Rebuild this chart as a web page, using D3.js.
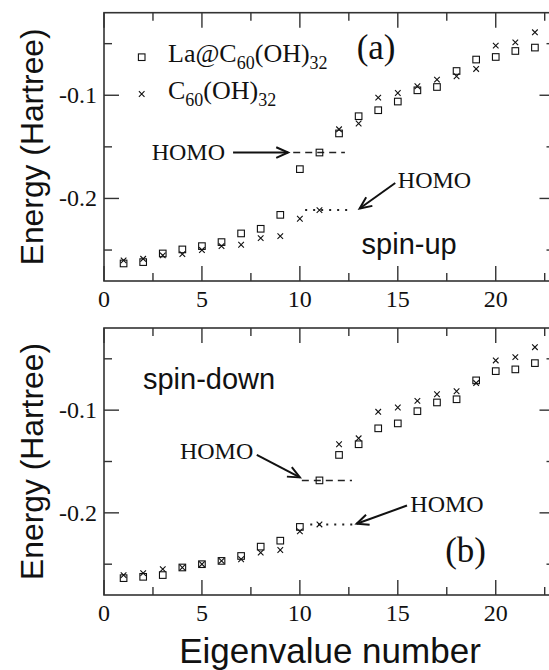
<!DOCTYPE html>
<html lang="en">
<head>
    <meta charset="UTF-8">
    <title>Eigenvalues La@C60(OH)32 vs C60(OH)32</title>
    <script src="https://cdnjs.cloudflare.com/ajax/libs/d3/7.8.5/d3.min.js"></script>
    <style>
        * { margin: 0; padding: 0; }
        body { background: #fff; }
        svg { display: block; }
        .serif { font-family: "Liberation Serif", "Times New Roman", serif; fill: #111; }
        .sans { font-family: "Liberation Sans", Arial, sans-serif; fill: #111; }
        .frame line, .frame rect { stroke: #333; }
    </style>
</head>
<body>
<svg id="chart" width="549" height="670"></svg>
<script>
    // eigenvalue index (x)
    const eigNumber = d3.range(1, 23);

    // spin-up (a)
    const upLa  = [-0.2630, -0.2617, -0.2533, -0.2494, -0.2462, -0.2423, -0.2339, -0.2294, -0.2159, -0.1716, -0.1555,
                   -0.1370, -0.1203, -0.1145, -0.1061, -0.0952, -0.0920, -0.0765, -0.0654, -0.0629, -0.0571, -0.0538];
    const upC60 = [-0.2600, -0.2585, -0.2552, -0.2539, -0.2500, -0.2462, -0.2449, -0.2384, -0.2365, -0.2197, -0.2113,
                   -0.1330, -0.1274, -0.1023, -0.0978, -0.0913, -0.0848, -0.0816, -0.0745, -0.0519, -0.0487, -0.0390];

    // spin-down (b)
    const downLa  = [-0.2636, -0.2623, -0.2606, -0.2532, -0.2500, -0.2468, -0.2420, -0.2329, -0.2271, -0.2137, -0.1684,
                     -0.1436, -0.1332, -0.1177, -0.1129, -0.1010, -0.0925, -0.0894, -0.0710, -0.0620, -0.0603, -0.0542];
    const downC60 = [-0.2606, -0.2587, -0.2548, -0.2532, -0.2500, -0.2468, -0.2452, -0.2387, -0.2362, -0.2180, -0.2113,
                     -0.1332, -0.1274, -0.1016, -0.0974, -0.0910, -0.0845, -0.0816, -0.0736, -0.0516, -0.0484, -0.0387];

    // HOMO index for each series (1-based)
    const homoLa = 11, homoC60 = 11;

    const xTicks = [0, 5, 10, 15, 20];
    const yTicks = [-0.2, -0.1];
    const yTickLabels = ['-0.2', '-0.1'];

    const svg = d3.select('#chart');

    const x = d3.scaleLinear().domain([0, 23]).range([104, 554.5]);

    function drawPanel(opts) {
        const y = d3.scaleLinear().domain([-0.28, -0.02]).range([opts.bottom, opts.top]);
        const g = svg.append('g');
        const x0 = x.range()[0], x1 = x.range()[1];

        // frame
        const frame = g.append('g').attr('class', 'frame');
        frame.append('rect')
            .attr('x', x0).attr('y', opts.top)
            .attr('width', x1 - x0).attr('height', opts.bottom - opts.top)
            .attr('fill', 'none').attr('stroke-width', 1.6);

        const xMajor = xTicks;
        const xMinor = d3.range(2.5, 23, 5);
        const yMajor = yTicks;
        const yMinor = [-0.25, -0.15, -0.05];

        function xtick(v, len) {
            frame.append('line').attr('x1', x(v)).attr('x2', x(v))
                .attr('y1', opts.bottom).attr('y2', opts.bottom - len).attr('stroke-width', 1.4);
            frame.append('line').attr('x1', x(v)).attr('x2', x(v))
                .attr('y1', opts.top).attr('y2', opts.top + len).attr('stroke-width', 1.4);
        }
        function ytick(v, len) {
            frame.append('line').attr('y1', y(v)).attr('y2', y(v))
                .attr('x1', x0).attr('x2', x0 + len).attr('stroke-width', 1.4);
            frame.append('line').attr('y1', y(v)).attr('y2', y(v))
                .attr('x1', x1).attr('x2', x1 - len).attr('stroke-width', 1.4);
        }
        xMajor.forEach(v => xtick(v, 15));
        xMinor.forEach(v => xtick(v, 8));
        yMajor.forEach(v => ytick(v, 15));
        yMinor.forEach(v => ytick(v, 8));

        // tick labels
        g.selectAll('.xl').data(xMajor).enter().append('text')
            .attr('class', 'serif')
            .attr('x', d => x(d)).attr('y', opts.bottom + 26)
            .attr('text-anchor', 'middle').attr('font-size', 24)
            .text(d => d);
        g.selectAll('.yl').data(yMajor).enter().append('text')
            .attr('class', 'serif')
            .attr('x', x0 - 7).attr('y', d => y(d) + 8)
            .attr('text-anchor', 'end').attr('font-size', 24)
            .text((d, i) => yTickLabels[i]);

        // y axis title
        const cy = (opts.top + opts.bottom) / 2;
        g.append('text').attr('class', 'sans')
            .attr('transform', `translate(43,${cy}) rotate(-90)`)
            .attr('text-anchor', 'middle').attr('font-size', 32)
            .attr('textLength', 237).attr('lengthAdjust', 'spacingAndGlyphs')
            .text('Energy (Hartree)');

        // HOMO guide lines
        const laH = opts.la[homoLa - 1], cH = opts.c60[homoC60 - 1];
        g.append('line')
            .attr('x1', x(opts.dash[0])).attr('x2', x(opts.dash[1]))
            .attr('y1', y(laH)).attr('y2', y(laH))
            .attr('stroke', '#222').attr('stroke-width', 1.5).attr('stroke-dasharray', '7,5');
        g.append('line')
            .attr('x1', x(opts.dot[0])).attr('x2', x(opts.dot[1]))
            .attr('y1', y(cH)).attr('y2', y(cH))
            .attr('stroke', '#222').attr('stroke-width', 2).attr('stroke-dasharray', '2,6');

        // markers
        g.append('g').selectAll('rect').data(opts.la).enter().append('rect')
            .attr('x', (d, i) => x(eigNumber[i]) - 3.3)
            .attr('y', d => y(d) - 3.3)
            .attr('width', 6.6).attr('height', 6.6)
            .attr('fill', 'none').attr('stroke', '#111').attr('stroke-width', 1.1);
        g.append('g').selectAll('path').data(opts.c60).enter().append('path')
            .attr('d', (d, i) => {
                const cx = x(eigNumber[i]), cyy = y(d), r = 2.8;
                return `M${cx - r},${cyy - r}L${cx + r},${cyy + r}M${cx - r},${cyy + r}L${cx + r},${cyy - r}`;
            })
            .attr('stroke', '#111').attr('stroke-width', 1.1);

        // annotations
        opts.arrows.forEach(a => {
            const p0 = [x(a.from[0]), y(a.from[1])], p1 = [x(a.to[0]), y(a.to[1])];
            const ang = Math.atan2(p1[1] - p0[1], p1[0] - p0[0]);
            const L = 13, W = 0.42;
            g.append('line')
                .attr('x1', p0[0]).attr('y1', p0[1]).attr('x2', p1[0]).attr('y2', p1[1])
                .attr('stroke', '#111').attr('stroke-width', 2);
            g.append('path')
                .attr('d', `M${p1[0] - L * Math.cos(ang - W)},${p1[1] - L * Math.sin(ang - W)}` +
                           `L${p1[0]},${p1[1]}` +
                           `L${p1[0] - L * Math.cos(ang + W)},${p1[1] - L * Math.sin(ang + W)}`)
                .attr('fill', 'none').attr('stroke', '#111').attr('stroke-width', 2);
        });
        opts.labels.forEach(t => {
            g.append('text').attr('class', t.cls)
                .attr('x', x(t.at[0])).attr('y', y(t.at[1]))
                .attr('text-anchor', t.anchor || 'start')
                .attr('font-size', t.size)
                .text(t.text);
        });
        return {g, y};
    }

    const panelA = drawPanel({
        top: 12.7, bottom: 281,
        la: upLa, c60: upC60,
        dash: [9.66, 12.3], dot: [10.27, 12.72],
        arrows: [
            {from: [6.59, -0.1555], to: [9.4, -0.1555]},
            {from: [14.87, -0.185], to: [13.05, -0.2097]}
        ],
        labels: [
            {text: 'HOMO', at: [6.18, -0.163], anchor: 'end', size: 24, cls: 'serif'},
            {text: 'HOMO', at: [15.0, -0.1895], size: 24, cls: 'serif'},
            {text: 'spin-up', at: [13.15, -0.2535], size: 29, cls: 'sans'},
            {text: '(a)', at: [12.9, -0.0645], size: 35, cls: 'serif'}
        ]
    });

    const panelB = drawPanel({
        top: 328, bottom: 595,
        la: downLa, c60: downC60,
        dash: [10.1, 12.66], dot: [10.53, 12.83],
        arrows: [
            {from: [7.8, -0.1436], to: [10.0, -0.1655]},
            {from: [15.47, -0.1929], to: [12.9, -0.2106]}
        ],
        labels: [
            {text: 'HOMO', at: [7.62, -0.1478], anchor: 'end', size: 24, cls: 'serif'},
            {text: 'HOMO', at: [15.64, -0.1995], size: 24, cls: 'serif'},
            {text: 'spin-down', at: [1.99, -0.0795], size: 29, cls: 'sans'},
            {text: '(b)', at: [17.42, -0.248], size: 35, cls: 'serif'}
        ]
    });

    // legend (panel a)
    const legendItems = [
        {base: 'La@C', sub1: '60', mid: '(OH)', sub2: '32', shape: 'square'},
        {base: 'C', sub1: '60', mid: '(OH)', sub2: '32', shape: 'cross'}
    ];
    const leg = svg.append('g');
    legendItems.forEach((d, i) => {
        const ty = 61.7 + i * 36.8;
        const my = ty - 4.5;
        if (d.shape === 'square') {
            leg.append('rect').attr('x', 141.7 - 3.3).attr('y', my - 3.3)
                .attr('width', 6.6).attr('height', 6.6)
                .attr('fill', 'none').attr('stroke', '#111').attr('stroke-width', 1.1);
        } else {
            const r = 2.8, cx = 141.7;
            leg.append('path')
                .attr('d', `M${cx - r},${my - r}L${cx + r},${my + r}M${cx - r},${my + r}L${cx + r},${my - r}`)
                .attr('stroke', '#111').attr('stroke-width', 1.1);
        }
        const t = leg.append('text').attr('class', 'serif')
            .attr('x', 168).attr('y', ty).attr('font-size', 26);
        t.append('tspan').text(d.base);
        t.append('tspan').attr('font-size', 18).attr('dy', 7).text(d.sub1);
        t.append('tspan').attr('dy', -7).text(d.mid);
        t.append('tspan').attr('font-size', 18).attr('dy', 7).text(d.sub2);
    });

    // shared x title
    svg.append('text').attr('class', 'sans')
        .attr('x', 330).attr('y', 663)
        .attr('text-anchor', 'middle').attr('font-size', 35)
        .text('Eigenvalue number');
</script>
</body>
</html>
